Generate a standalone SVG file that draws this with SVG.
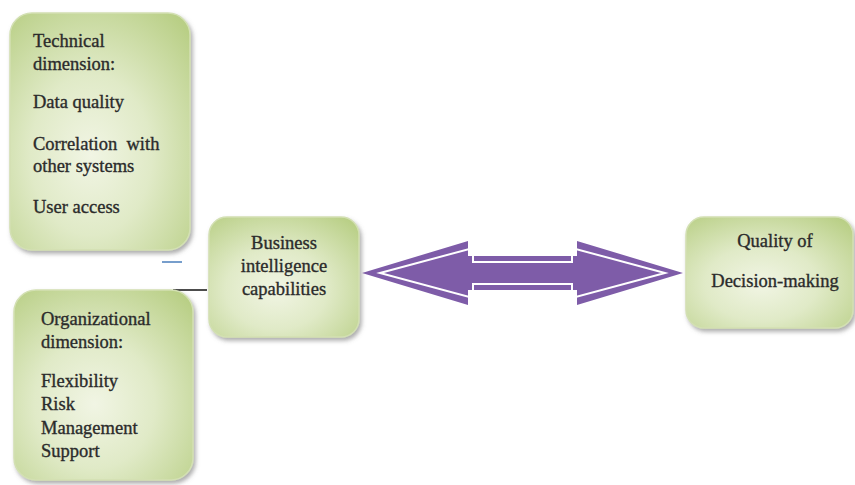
<svg xmlns="http://www.w3.org/2000/svg" width="855" height="485" viewBox="0 0 855 485">
<defs>
<radialGradient id="g" cx="0.45" cy="0.6" r="0.75">
<stop offset="0" stop-color="#f1f5e4"/>
<stop offset="0.45" stop-color="#e0eac7"/>
<stop offset="1" stop-color="#b9cf86"/>
</radialGradient>
<filter id="sh" x="-10%" y="-10%" width="125%" height="125%">
<feDropShadow dx="2" dy="3" stdDeviation="2" flood-color="#6b6b6b" flood-opacity="0.55"/>
</filter>
</defs>
<style>
.box{fill:url(#g);stroke:#d3e0b3;stroke-width:1.5;filter:url(#sh)}
.t{font-family:'Liberation Serif','DejaVu Serif',serif;font-size:18.5px;fill:#2b2b2b;stroke:#2b2b2b;stroke-width:0.35}
.c{text-anchor:middle}
</style>
<rect width="855" height="485" fill="#ffffff"/>
<g id="connectors">
<line x1="162" y1="262" x2="182" y2="262" stroke="#4a7ebb" stroke-width="1.5"/>
<line x1="173" y1="290" x2="207" y2="290" stroke="#111111" stroke-width="1.5"/>
<g id="double-arrow">
<polygon points="362,273 468,241 468,256 577,256 577,241 683,273 577,305 577,290 468,290 468,305" fill="#7e5ca8"/>
<polygon points="380,273 473,248 473,262 572,262 572,248 665,273 572,298 572,284 473,284 473,298" fill="none" stroke="#ffffff" stroke-width="2"/>
</g>
</g>
<g id="technical">
<rect class="box" x="10" y="13" width="180" height="237" rx="22"/>
<text class="t" x="33" y="47">Technical</text>
<text class="t" x="33" y="70">dimension:</text>
<text class="t" x="33" y="108">Data quality</text>
<text class="t" x="33" y="150" xml:space="preserve">Correlation  with</text>
<text class="t" x="33" y="172">other systems</text>
<text class="t" x="33" y="213">User access</text>
</g>
<g id="organizational">
<rect class="box" x="14" y="290" width="179" height="190" rx="22"/>
<text class="t" x="41" y="325">Organizational</text>
<text class="t" x="41" y="348">dimension:</text>
<text class="t" x="41" y="387">Flexibility</text>
<text class="t" x="41" y="410">Risk</text>
<text class="t" x="41" y="434">Management</text>
<text class="t" x="41" y="457">Support</text>
</g>
<g id="bi">
<rect class="box" x="209" y="217" width="150" height="120" rx="18"/>
<text class="t c" x="284" y="249">Business</text>
<text class="t c" x="284" y="272">intelligence</text>
<text class="t c" x="284" y="295">capabilities</text>
</g>
<g id="quality">
<rect class="box" x="686" y="217" width="167" height="111" rx="18"/>
<text class="t c" x="775" y="247">Quality of</text>
<text class="t c" x="775" y="287">Decision-making</text>
</g>
</svg>
